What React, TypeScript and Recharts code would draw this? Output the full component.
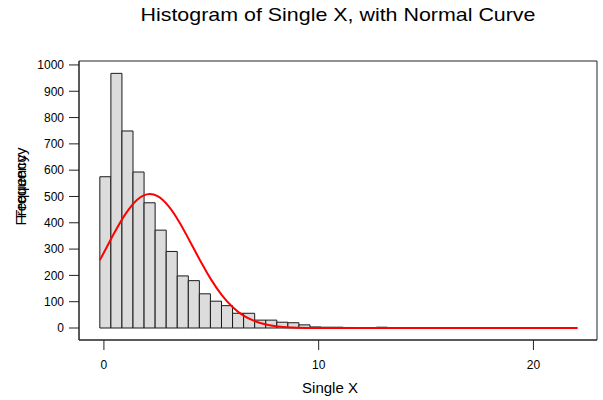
import React from 'react';
import { ComposedChart, Line, XAxis, YAxis, ReferenceArea } from 'recharts';

// histogram bins (Single X), left edge of the first bin + width in x units
const binStart = -0.19;
const binWidth = 0.515;
const binCounts = [
    575, 968, 749, 593, 476, 372, 291, 198, 180, 130, 102, 85, 56, 56, 30, 30, 22, 20, 12, 4, 3, 3, 2, 1,
    1, 3, 1, 0, 1, 0, 0, 1, 0, 1, 1, 0, 0, 0, 1, 0, 0, 0, 0, 0,
];

// fitted normal curve
const curveX = [-0.19, 0, 0.5, 1, 1.5, 2, 2.14, 2.5, 3, 3.5, 4, 4.5, 5, 5.5, 6, 6.5, 7, 7.5, 8, 8.5, 9, 10, 12, 16, 22.06];
const curveY = [258, 287, 364, 433, 484, 508, 509, 501, 464, 404, 330, 254, 183, 124, 79, 47, 27, 14, 7, 3, 1, 0, 0, 0, 0];

const xTicks = [0, 10, 20];
const yTicks = [0, 100, 200, 300, 400, 500, 600, 700, 800, 900, 1000];
const xDomain = [-1.16, 22.96];
const yDomain = [-45.6, 1015];

const curveData = curveX.map((x, i) => ({ x, y: curveY[i] }));

const font = 'Arial, "Liberation Sans", sans-serif';
const ink = '#222';

export default function App() {
    return (
        <div style={{ position: 'absolute', left: 0, top: 0, width: 603, height: 400, background: '#fff' }}>
            <ComposedChart
                width={603}
                height={400}
                data={curveData}
                margin={{ top: 61, right: 6, bottom: 30, left: 19 }}
            >
                <XAxis
                    dataKey="x"
                    type="number"
                    domain={xDomain}
                    ticks={xTicks}
                    allowDataOverflow
                    height={30}
                    tickSize={10}
                    tickMargin={10}
                    axisLine={{ stroke: ink }}
                    tickLine={{ stroke: ink }}
                    tick={{ fill: '#000', fontSize: 12, fontFamily: font }}
                />
                <YAxis
                    type="number"
                    domain={yDomain}
                    ticks={yTicks}
                    allowDataOverflow
                    width={60}
                    tickSize={10}
                    tickMargin={5}
                    axisLine={{ stroke: ink }}
                    tickLine={{ stroke: ink }}
                    tick={{ fill: '#000', fontSize: 12, fontFamily: font }}
                />
                {/* frame around the plot area */}
                <ReferenceArea
                    x1={xDomain[0]}
                    x2={xDomain[1]}
                    y1={yDomain[0]}
                    y2={yDomain[1]}
                    fill="none"
                    stroke={ink}
                    strokeWidth={1}
                />
                {binCounts.map((c, k) =>
                    c > 0 ? (
                        <ReferenceArea
                            key={k}
                            x1={binStart + k * binWidth}
                            x2={binStart + (k + 1) * binWidth}
                            y1={0}
                            y2={c}
                            fill="#dcdcdc"
                            fillOpacity={1}
                            stroke="#1a1a1a"
                            strokeWidth={1}
                        />
                    ) : null
                )}
                <Line
                    type="monotone"
                    dataKey="y"
                    stroke="#ff0000"
                    strokeWidth={2}
                    dot={false}
                    isAnimationActive={false}
                />
                <text x={338} y={21} textAnchor="middle" fontSize={19} textLength={395} lengthAdjust="spacingAndGlyphs" fontFamily={font} fill="#000">
                    Histogram of Single X, with Normal Curve
                </text>
                <text x={330} y={393} textAnchor="middle" fontSize={15} fontFamily={font} fill="#000">
                    Single X
                </text>
                <text x={26} y={183} transform="rotate(-90 26 183)" textAnchor="middle" fontSize={15} fontFamily={font} fill="#000">
                    Frequency
                </text>
                <text x={26} y={190} transform="rotate(-90 26 190)" textAnchor="middle" fontSize={15} fontFamily={font} fill="#000">
                    Frequency
                </text>
            </ComposedChart>
        </div>
    );
}
